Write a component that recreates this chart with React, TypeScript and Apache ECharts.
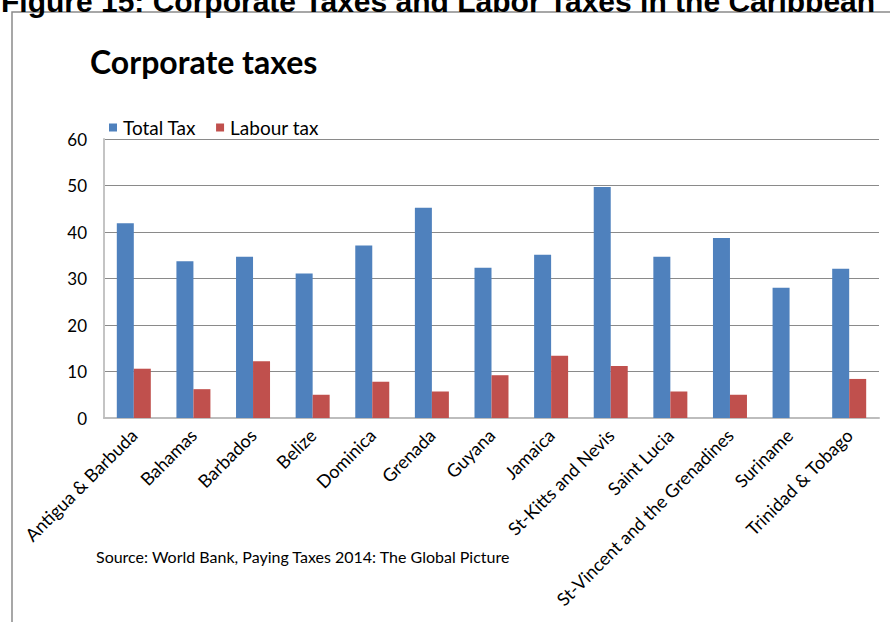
import React, { useEffect, useRef } from "react";
import * as echarts from "echarts";

const categories = [
  "Antigua & Barbuda",
  "Bahamas",
  "Barbados",
  "Belize",
  "Dominica",
  "Grenada",
  "Guyana",
  "Jamaica",
  "St-Kitts and Nevis",
  "Saint Lucia",
  "St-Vincent and the Grenadines",
  "Suriname",
  "Trinidad & Tobago",
];
const totalTax = [41.9, 33.7, 34.7, 31.1, 37.1, 45.2, 32.3, 35.1, 49.7, 34.7, 38.7, 28.0, 32.1];
const labourTax = [10.6, 6.2, 12.2, 5.0, 7.8, 5.7, 9.2, 13.4, 11.2, 5.7, 5.0, 0, 8.4];
const yTicks = [0, 10, 20, 30, 40, 50, 60];

const FONT = "Lato, 'Open Sans', sans-serif";

export default function App() {
  const ref = useRef<HTMLDivElement>(null);
  useEffect(() => {
    document.body.style.margin = "0";
    if (!ref.current) return;
    const chart = echarts.init(ref.current, null, { renderer: "svg" });
    chart.setOption({
      animation: false,
      backgroundColor: "#ffffff",
      textStyle: { fontFamily: FONT },
      grid: { left: 104, right: 11, top: 139, bottom: 204, containLabel: false },
      legend: {
        left: 104,
        top: 113,
        itemWidth: 8,
        itemHeight: 8,
        itemGap: 20,
        icon: "rect",
        textStyle: { fontSize: 19, color: "#000", fontFamily: FONT, padding: [0, 0, 0, 1] },
        data: ["Total Tax", "Labour tax"],
      },
      xAxis: {
        type: "category",
        data: categories,
        axisLine: { lineStyle: { color: "#bdbdbd", width: 2 } },
        axisTick: { show: false },
        axisLabel: {
          rotate: 45,
          interval: 0,
          fontSize: 18,
          color: "#000",
          fontFamily: FONT,
          margin: 14,
        },
      },
      yAxis: {
        type: "value",
        min: 0,
        max: 60,
        interval: 10,
        axisLine: { show: true, lineStyle: { color: "#c4c4c4", width: 2 } },
        axisTick: { show: false },
        axisLabel: {
          fontSize: 17,
          color: "#000",
          fontFamily: FONT,
          margin: 17,
          formatter: (v: number) => (yTicks.includes(v) ? String(v) : ""),
        },
        splitLine: { lineStyle: { color: "#8a8a8a", width: 1.2 } },
      },
      series: [
        {
          name: "Total Tax",
          type: "bar",
          data: totalTax,
          barWidth: 17,
          barGap: "0%",
          itemStyle: { color: "#4F81BD" },
        },
        {
          name: "Labour tax",
          type: "bar",
          data: labourTax,
          barWidth: 17,
          barGap: "0%",
          itemStyle: { color: "#C0504D" },
        },
      ],
      graphic: [
        {
          type: "rect",
          shape: { x: 12, y: 12, width: 920, height: 700 },
          style: { fill: "none", stroke: "#8a8a8a", lineWidth: 1.5 },
          silent: true,
        },
        {
          type: "text",
          x: 1,
          y: 16,
          style: {
            text: "Figure 15: Corporate Taxes and Labor Taxes in the Caribbean",
            font: "bold 30px 'Liberation Sans', Arial, sans-serif",
            fill: "#000",
            verticalAlign: "bottom",
          },
        },
        {
          type: "text",
          x: 90,
          y: 61,
          style: {
            text: "Corporate taxes",
            font: `bold 32px ${FONT}`,
            fill: "#000",
            verticalAlign: "middle",
          },
        },
        {
          type: "text",
          x: 96,
          y: 556,
          style: {
            text: "Source: World Bank, Paying Taxes 2014: The Global Picture",
            font: `16px ${FONT}`,
            fill: "#000",
            verticalAlign: "middle",
          },
        },
      ],
    });
    return () => chart.dispose();
  }, []);
  return <div ref={ref} style={{ width: 890, height: 622 }} />;
}
